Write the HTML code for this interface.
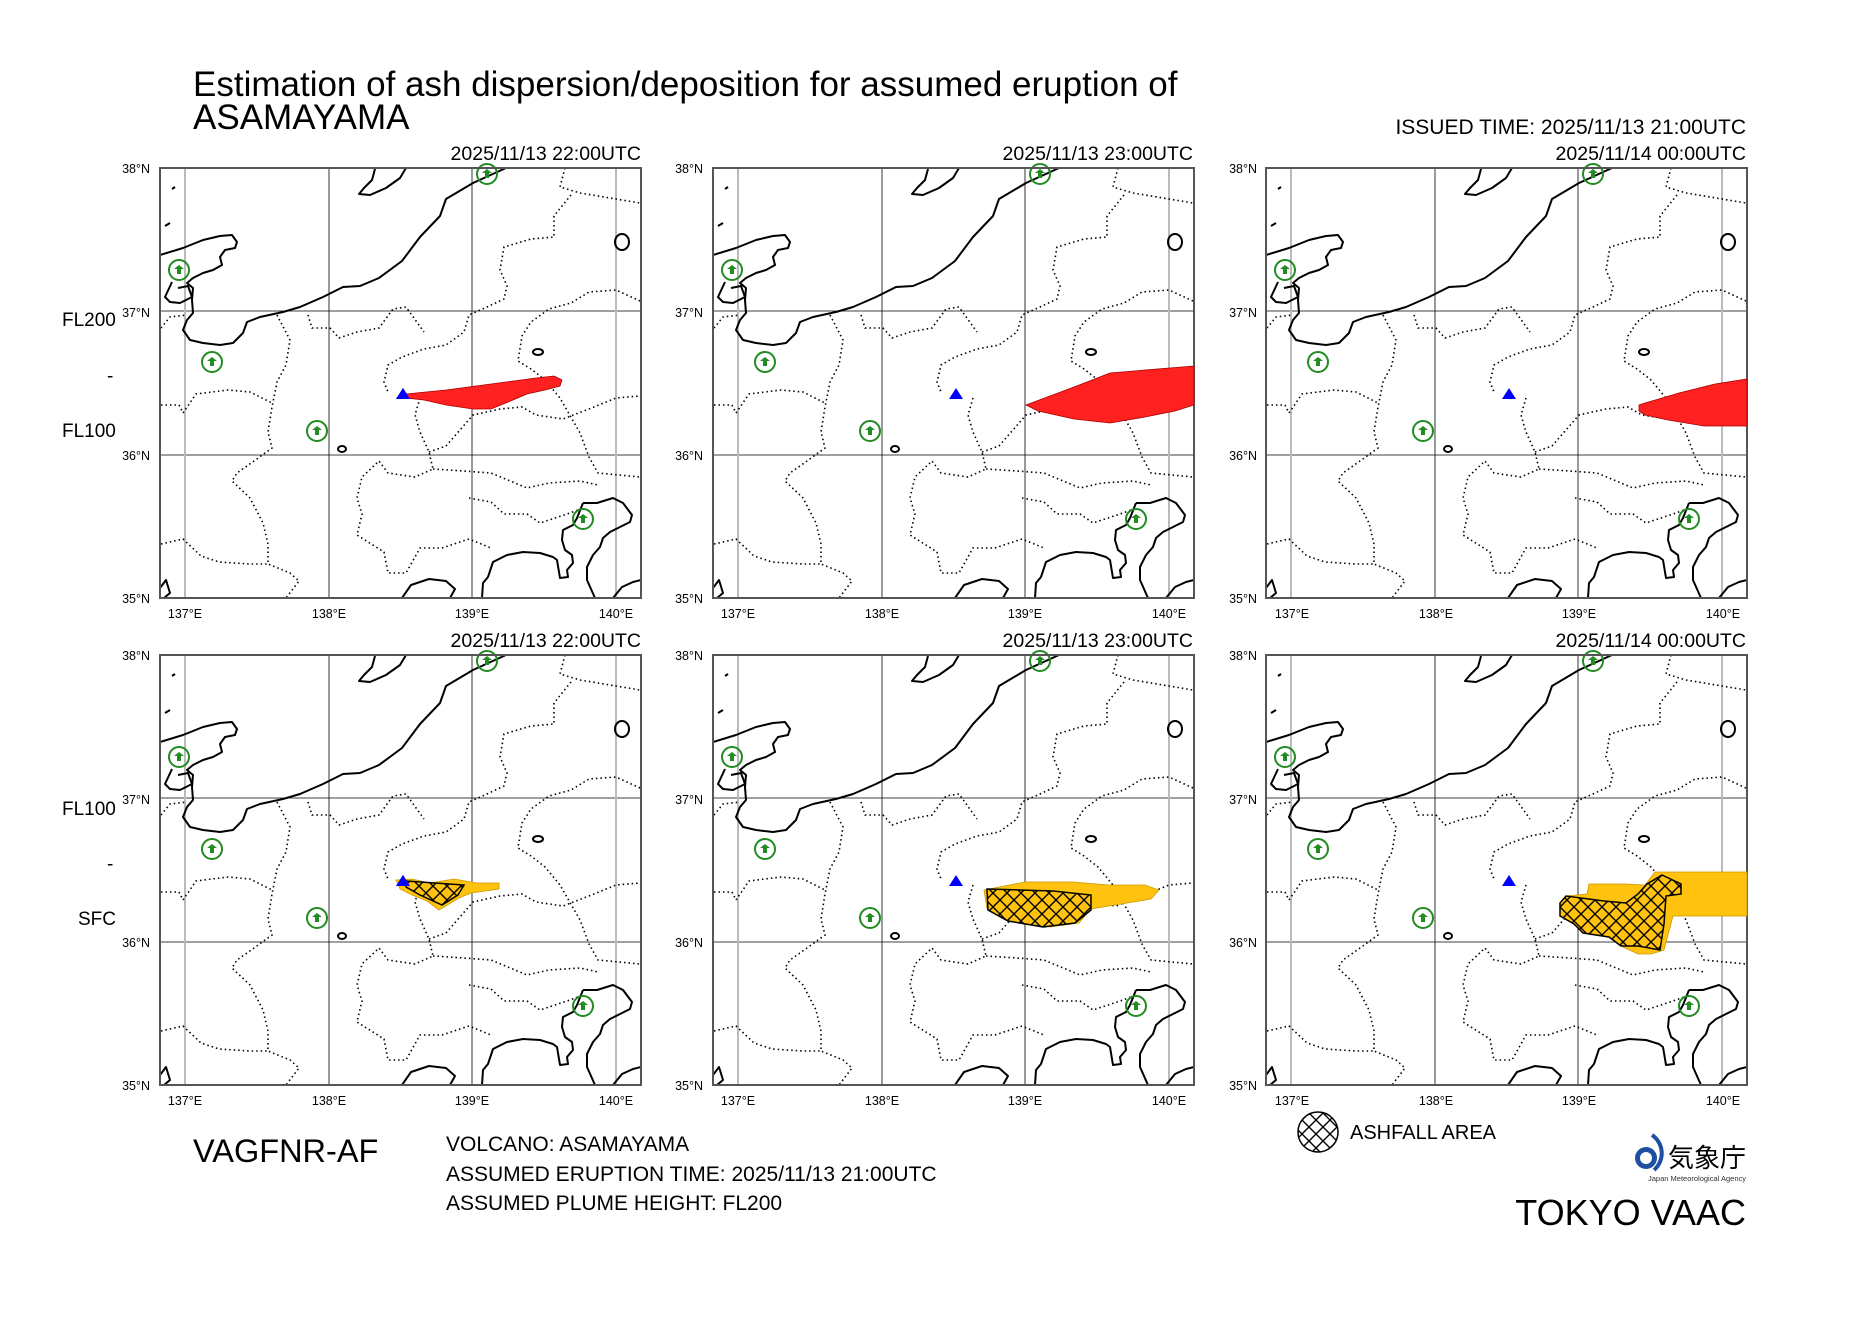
<!DOCTYPE html>
<html><head><meta charset="utf-8"><style>
html,body{margin:0;padding:0;background:#fff;}
svg{display:block;font-family:"Liberation Sans","Noto Sans CJK JP",sans-serif;}
</style></head><body>
<svg width="1869" height="1322" viewBox="0 0 1869 1322" xmlns="http://www.w3.org/2000/svg">
<defs>
<pattern id="hatch" width="14" height="14" patternUnits="userSpaceOnUse">
<path d="M0,0 L14,14 M14,0 L0,14" stroke="#000" stroke-width="1.4"/>
</pattern>
<clipPath id="pc"><rect x="0" y="0" width="481" height="430"/></clipPath>
<g id="base">
<rect x="0" y="0" width="481" height="430" fill="#fff"/>
<g stroke="#000" stroke-width="0.8">
<line x1="169" y1="0" x2="169" y2="430"/><line x1="312" y1="0" x2="312" y2="430"/>
<line x1="0" y1="143" x2="481" y2="143"/><line x1="0" y1="287" x2="481" y2="287"/>
</g>
<g stroke="#bbb" stroke-width="2"><line x1="25" y1="0" x2="25" y2="430"/><line x1="456" y1="0" x2="456" y2="430"/></g>
<g clip-path="url(#pc)" fill="none">
<g stroke="#000" stroke-width="1.6" stroke-dasharray="1.5 3">
<polyline points="405,0 400,19 420,25 456,31 480,35"/>
<polyline points="411,27 394,48 394,69 371,71 344,79 340,102 347,118 344,131 327,139 309,147 304,164 286,177 264,181 242,189 228,197 224,214 228,224"/>
<polyline points="480,133 456,122 429,124 411,135 389,141 371,154 362,168 358,193 371,201 385,212 400,230 420,265 429,289 438,305 480,309"/>
<polyline points="117,147 130,172 126,197 117,214 112,239 108,264 112,280 94,293 77,305 72,313 90,330 103,355 108,376 108,396 130,405 139,413 126,430"/>
<polyline points="1,160 10,149 27,147"/>
<polyline points="1,237 19,237 23,245 36,226 68,222 90,224 112,235"/>
<polyline points="148,147 152,160 170,160 179,170 197,164 219,160 233,141 246,139 264,164"/>
<polyline points="260,230 255,247 260,264 269,284 273,301 255,309 228,305 219,293 202,309 197,330 202,346 197,367 224,384 228,405 246,405 260,380 282,380 309,371 331,380"/>
<polyline points="269,284 286,278 313,247 340,241 362,239 376,247 403,251 434,239 456,230 480,228"/>
<polyline points="273,301 304,303 331,305 367,320 389,315 420,313 438,317"/>
<polyline points="309,330 331,334 344,346 367,346 380,355 395,350 410,345 423,340"/>
<polyline points="1,376 23,371 41,388 59,394 90,396 108,396"/>
</g>
<g stroke="#000" stroke-width="2" stroke-linejoin="round">
<polyline points="346,0 313,15 286,31 280,48 260,69 242,93 219,110 200,118 183,119 163,129 140,139 123,144 100,149 87,154 83,165 73,175 60,177 43,175 30,172 23,162 27,152 33,145 32,132 33,120 27,115 33,110 43,105 53,102 62,97 60,89 65,82 75,80 77,74 72,67 60,68 43,72 23,80 0,87"/>
<polyline points="12,114 5,129 10,134 20,135 32,129 28,118 18,120"/>
<polyline points="246,0 240,10 226,20 210,27 199,26 204,20 212,12 215,1"/>
<polyline points="423,335 437,335 453,330 463,335 472,347 470,354 460,359 450,364 443,370 440,379 433,387 427,399 427,412 435,430"/>
<polyline points="423,335 417,350 413,357 403,362 402,372 405,382 412,387 413,395 407,402 408,409 400,410 397,392 393,389 380,385 363,384 347,387 333,394 328,409 323,415 322,430"/>
<polyline points="242,430 251,417 269,411 286,413 295,421 290,430"/>
<polyline points="453,430 462,419 473,414 481,412"/>
<ellipse cx="462" cy="74" rx="7" ry="8"/>
<ellipse cx="378" cy="184" rx="5" ry="3"/>
<ellipse cx="182" cy="281" rx="4" ry="3"/>
<polyline points="0,420 6,412 10,425 4,430"/>
<polyline points="12,21 15,19"/><polyline points="5,58 10,55"/>
</g>
</g>
<g stroke="#228b22" stroke-width="2" fill="none">
<circle cx="327" cy="6" r="10"/><circle cx="19" cy="102" r="10"/><circle cx="52" cy="194" r="10"/><circle cx="157" cy="263" r="10"/><circle cx="423" cy="351" r="10"/>
</g>
<g fill="#228b22">
<path d="M322,5 L327,1 L332,5 L329,5 L329,10 L325,10 L325,5Z"/>
<path d="M14,101 L19,97 L24,101 L21,101 L21,106 L17,106 L17,101Z"/>
<path d="M47,193 L52,189 L57,193 L54,193 L54,198 L50,198 L50,193Z"/>
<path d="M152,262 L157,258 L162,262 L159,262 L159,267 L155,267 L155,262Z"/>
<path d="M418,350 L423,346 L428,350 L425,350 L425,355 L421,355 L421,350Z"/>
</g>
<path d="M243,220 L250,231 L236,231Z" fill="#0000ff"/>
<rect x="0" y="0" width="481" height="430" fill="none" stroke="#555" stroke-width="2"/>
</g>
</defs>

<text x="193" y="96" font-size="35">Estimation of ash dispersion/deposition for assumed eruption of</text>
<text x="193" y="129" font-size="35">ASAMAYAMA</text>
<text x="1746" y="134" font-size="21" text-anchor="end">ISSUED TIME: 2025/11/13 21:00UTC</text>

<g font-size="12.5">
<text x="150" y="173" text-anchor="end">38°N</text><text x="150" y="317" text-anchor="end">37°N</text><text x="150" y="460" text-anchor="end">36°N</text><text x="150" y="603" text-anchor="end">35°N</text>
<text x="185" y="618" text-anchor="middle">137°E</text><text x="329" y="618" text-anchor="middle">138°E</text><text x="472" y="618" text-anchor="middle">139°E</text><text x="616" y="618" text-anchor="middle">140°E</text>
<text x="703" y="173" text-anchor="end">38°N</text><text x="703" y="317" text-anchor="end">37°N</text><text x="703" y="460" text-anchor="end">36°N</text><text x="703" y="603" text-anchor="end">35°N</text>
<text x="738" y="618" text-anchor="middle">137°E</text><text x="882" y="618" text-anchor="middle">138°E</text><text x="1025" y="618" text-anchor="middle">139°E</text><text x="1169" y="618" text-anchor="middle">140°E</text>
<text x="1257" y="173" text-anchor="end">38°N</text><text x="1257" y="317" text-anchor="end">37°N</text><text x="1257" y="460" text-anchor="end">36°N</text><text x="1257" y="603" text-anchor="end">35°N</text>
<text x="1292" y="618" text-anchor="middle">137°E</text><text x="1436" y="618" text-anchor="middle">138°E</text><text x="1579" y="618" text-anchor="middle">139°E</text><text x="1723" y="618" text-anchor="middle">140°E</text>

<text x="150" y="660" text-anchor="end">38°N</text><text x="150" y="804" text-anchor="end">37°N</text><text x="150" y="947" text-anchor="end">36°N</text><text x="150" y="1090" text-anchor="end">35°N</text>
<text x="185" y="1105" text-anchor="middle">137°E</text><text x="329" y="1105" text-anchor="middle">138°E</text><text x="472" y="1105" text-anchor="middle">139°E</text><text x="616" y="1105" text-anchor="middle">140°E</text>
<text x="703" y="660" text-anchor="end">38°N</text><text x="703" y="804" text-anchor="end">37°N</text><text x="703" y="947" text-anchor="end">36°N</text><text x="703" y="1090" text-anchor="end">35°N</text>
<text x="738" y="1105" text-anchor="middle">137°E</text><text x="882" y="1105" text-anchor="middle">138°E</text><text x="1025" y="1105" text-anchor="middle">139°E</text><text x="1169" y="1105" text-anchor="middle">140°E</text>
<text x="1257" y="660" text-anchor="end">38°N</text><text x="1257" y="804" text-anchor="end">37°N</text><text x="1257" y="947" text-anchor="end">36°N</text><text x="1257" y="1090" text-anchor="end">35°N</text>
<text x="1292" y="1105" text-anchor="middle">137°E</text><text x="1436" y="1105" text-anchor="middle">138°E</text><text x="1579" y="1105" text-anchor="middle">139°E</text><text x="1723" y="1105" text-anchor="middle">140°E</text>
</g>

<g font-size="19.5">
<text x="641" y="160" text-anchor="end">2025/11/13 22:00UTC</text>
<text x="1193" y="160" text-anchor="end">2025/11/13 23:00UTC</text>
<text x="1746" y="160" text-anchor="end">2025/11/14 00:00UTC</text>
<text x="641" y="647" text-anchor="end">2025/11/13 22:00UTC</text>
<text x="1193" y="647" text-anchor="end">2025/11/13 23:00UTC</text>
<text x="1746" y="647" text-anchor="end">2025/11/14 00:00UTC</text>
</g>
<g font-size="19">
<text x="62" y="326">FL200</text><text x="107" y="382">-</text><text x="62" y="437">FL100</text>
<text x="62" y="815">FL100</text><text x="107" y="870">-</text><text x="78" y="925">SFC</text>
</g>

<g transform="translate(160,168)"><use href="#base"/>
<path d="M246,226 L286,222 L331,216 L376,210 L394,208 L402,212 L400,218 L385,222 L367,226 L353,232 L331,241 L313,241 L286,237 L264,232 L246,230Z" fill="#ff2020" stroke="#a00" stroke-width="0.8"/>
<path d="M243,220 L250,231 L236,231Z" fill="#0000ff"/></g>
<g transform="translate(713,168)"><use href="#base"/>
<path d="M313,237 L361,219 L397,205 L444,201 L481,198 L481,237 L462,243 L432,249 L397,255 L361,251 L325,243Z" fill="#ff2020" stroke="#a00" stroke-width="0.8"/></g>
<g transform="translate(1266,168)"><use href="#base"/>
<path d="M373,237 L379,235 L413,225 L449,216 L481,211 L481,258 L438,258 L402,252 L379,247 L373,243Z" fill="#ff2020" stroke="#a00" stroke-width="0.8"/></g>

<g transform="translate(160,655)"><use href="#base"/>
<path d="M236,225 L252,224 L270,228 L294,224 L317,228 L339,228 L339,234 L311,238 L299,243 L284,252 L279,255 L267,246 L252,240 L240,234Z" fill="#ffc20e" stroke="#c90" stroke-width="0.8"/>
<path d="M246,226 L304,230 L298,240 L282,250 L260,240 L246,232Z" fill="url(#hatch)" stroke="#000" stroke-width="1.5"/>
<path d="M243,220 L250,231 L236,231Z" fill="#0000ff"/></g>
<g transform="translate(713,655)"><use href="#base"/>
<path d="M271,235 L312,227 L360,227 L396,230 L432,230 L446,235 L438,244 L408,249 L378,254 L366,268 L337,272 L295,266 L274,254Z" fill="#ffc20e" stroke="#c90" stroke-width="0.8"/>
<path d="M274,234 L340,236 L378,240 L378,255 L362,268 L330,272 L295,266 L275,255Z" fill="url(#hatch)" stroke="#000" stroke-width="1.5"/></g>
<g transform="translate(1266,655)"><use href="#base"/>
<path d="M389,217 L481,217 L481,261 L407,261 L398,295 L385,299 L372,299 L355,291 L343,282 L317,278 L308,269 L294,261 L294,248 L300,241 L321,239 L323,229 L360,229 L379,230Z" fill="#ffc20e" stroke="#c90" stroke-width="0.8"/>
<path d="M396,220 L415,229 L415,239 L400,241 L398,269 L394,295 L372,291 L355,291 L343,282 L317,278 L308,269 L294,261 L294,248 L300,241 L338,246 L360,248 L372,239 L381,229Z" fill="url(#hatch)" stroke="#000" stroke-width="1.5"/></g>

<text x="193" y="1162" font-size="32.5">VAGFNR-AF</text>
<g font-size="21">
<text x="446" y="1151">VOLCANO: ASAMAYAMA</text>
<text x="446" y="1181">ASSUMED ERUPTION TIME: 2025/11/13 21:00UTC</text>
<text x="446" y="1210">ASSUMED PLUME HEIGHT: FL200</text>
</g>
<text x="1350" y="1139" font-size="20">ASHFALL AREA</text>
<circle cx="1318" cy="1132" r="20" fill="url(#hatch)" stroke="#000" stroke-width="1.5"/>
<circle cx="1646" cy="1158" r="11" fill="#1e4fa0"/>
<circle cx="1646" cy="1158" r="6" fill="#fff"/>
<path d="M1652,1135 A22,22 0 0 1 1654,1170" stroke="#1e4fa0" stroke-width="4" fill="none"/>
<text x="1746" y="1167" font-size="26" text-anchor="end">気象庁</text>
<text x="1746" y="1181" font-size="7.5" text-anchor="end" fill="#333">Japan Meteorological Agency</text>
<text x="1746" y="1225" font-size="36" text-anchor="end">TOKYO VAAC</text>
</svg>
</body></html>
